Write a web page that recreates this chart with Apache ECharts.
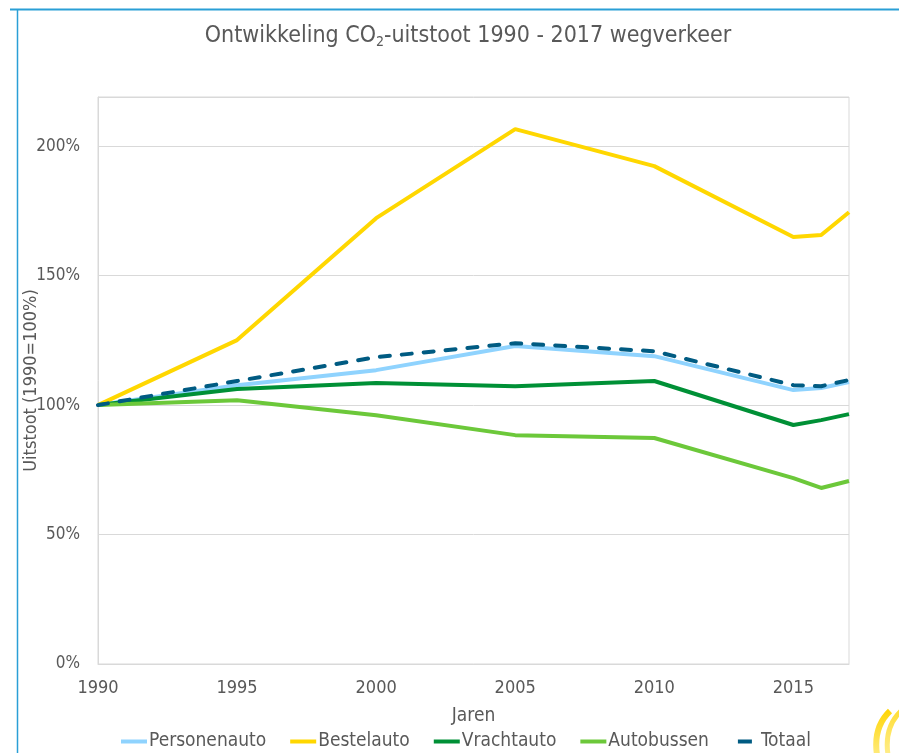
<!DOCTYPE html>
<html><head><meta charset="utf-8">
<script src="https://cdn.jsdelivr.net/npm/echarts@6/dist/echarts.min.js"></script>
<style>html,body{margin:0;padding:0;background:#fff}#c{width:899px;height:753px}</style>
</head><body><div id="c"></div>
<script>
const years = [1990, 1995, 2000, 2005, 2010, 2015, 2016, 2017];
const personenauto = [100, 107.7, 113.5, 122.8, 118.9, 105.8, 106.6, 108.9];
const bestelauto   = [100, 125.1, 172.2, 206.6, 192.3, 164.9, 165.7, 174.5];
const vrachtauto   = [100, 106.2, 108.5, 107.3, 109.3, 92.3, 94.2, 96.5];
const autobussen   = [100, 101.9, 96.1, 88.4, 87.3, 71.8, 68.0, 70.7];
const totaal       = [100, 109.3, 118.5, 123.9, 120.8, 107.7, 107.3, 109.7];
const seriesNames = ['Personenauto', 'Bestelauto', 'Vrachtauto', 'Autobussen', 'Totaal'];
const yTicks = [0, 50, 100, 150, 200];

const FONT = '"DejaVu Sans Condensed", "Open Sans", sans-serif';
const TXT = '#595959';
const pair = arr => years.map((y, i) => [y, arr[i]]);

const chart = echarts.init(document.getElementById('c'));
const mk = (name, data, color, dashed) => ({
  name, type: 'line', data: pair(data), symbol: 'none', smooth: false,
  lineStyle: { color, width: 4, type: dashed ? [10, 12] : 'solid', cap: dashed ? 'round' : 'butt' },
  itemStyle: { color }, z: dashed ? 5 : 3
});
const logoGrad = c => ({ type: 'linear', x: 0, y: 0, x2: 0, y2: 1, global: false,
  colorStops: [{ offset: 0, color: c }, { offset: 1, color: '#fff3a8' }] });
chart.setOption({
  animation: false,
  title: {
    text: 'Ontwikkeling CO{sub|2}-uitstoot 1990 - 2017 wegverkeer',
    left: 463, top: 18, textAlign: 'center',
    textStyle: {
      fontFamily: FONT, fontSize: 23, fontWeight: 'normal', color: TXT,
      rich: { sub: { fontFamily: FONT, fontSize: 14, color: TXT, verticalAlign: 'bottom', padding: [12, 0, 0, 0] } }
    }
  },
  grid: { left: 98, right: 50, top: 97, bottom: 89, show: true, borderColor: '#d9d9d9', borderWidth: 1, outerBoundsMode: 'none', containLabel: false },
  legend: {
    data: seriesNames.map(n => n === 'Totaal'
      ? { name: n, icon: 'path://M0,0H0.01V0.01H0Z M5,0H19V4H5Z M25.99,3.99H26V4H25.99Z' }
      : { name: n }),
    bottom: -3, left: 116, itemGap: 24, itemWidth: 26, itemHeight: 4, icon: 'rect',
    textStyle: { fontFamily: FONT, fontSize: 19, color: TXT, padding: [0, 0, 0, -3] }
  },
  xAxis: {
    type: 'value', min: 1990, max: 2017, interval: 5,
    name: 'Jaren', nameLocation: 'middle', nameGap: 43, nameMoveOverlap: false,
    nameTextStyle: { fontFamily: FONT, fontSize: 19, color: TXT },
    axisLine: { show: true, lineStyle: { color: '#d9d9d9' } },
    axisTick: { show: false },
    splitLine: { show: false },
    axisLabel: { fontFamily: FONT, fontSize: 18, color: TXT, margin: 15,
      formatter: v => (v % 5 === 0 ? String(v) : '') }
  },
  yAxis: {
    type: 'value', min: 0, max: 219, interval: 50,
    name: 'Uitstoot (1990=100%)', nameLocation: 'middle', nameGap: 58, nameRotate: 90, nameMoveOverlap: false,
    nameTextStyle: { fontFamily: FONT, fontSize: 18, color: TXT },
    axisLine: { show: true, lineStyle: { color: '#d9d9d9' } },
    axisTick: { show: false },
    splitLine: { lineStyle: { color: '#d9d9d9', width: 1 } },
    axisLabel: { fontFamily: FONT, fontSize: 17, color: TXT, margin: 18,
      formatter: v => (yTicks.includes(v) ? v + '%' : '') }
  },
  series: [
    mk('Personenauto', personenauto, '#8fd3fe', false),
    mk('Bestelauto', bestelauto, '#ffd700', false),
    mk('Vrachtauto', vrachtauto, '#009036', false),
    mk('Autobussen', autobussen, '#6cc83a', false),
    mk('Totaal', totaal, '#005b82', true)
  ],
  graphic: [
    { type: 'line', shape: { x1: 10, y1: 9.5, x2: 899, y2: 9.5 }, style: { stroke: '#2a9fd6', lineWidth: 2 } },
    { type: 'line', shape: { x1: 17.5, y1: 9, x2: 17.5, y2: 753 }, style: { stroke: '#2a9fd6', lineWidth: 1.5 } },
    { type: 'bezierCurve', shape: { x1: 890, y1: 711, cpx1: 869, cpy1: 731, x2: 880, y2: 768 }, style: { stroke: logoGrad('#ffd400'), lineWidth: 6, fill: null } },
    { type: 'bezierCurve', shape: { x1: 901, y1: 711, cpx1: 880, cpy1: 731, x2: 891, y2: 768 }, style: { stroke: logoGrad('#ffdd33'), lineWidth: 5, fill: null } }
  ]
});
</script></body></html>
